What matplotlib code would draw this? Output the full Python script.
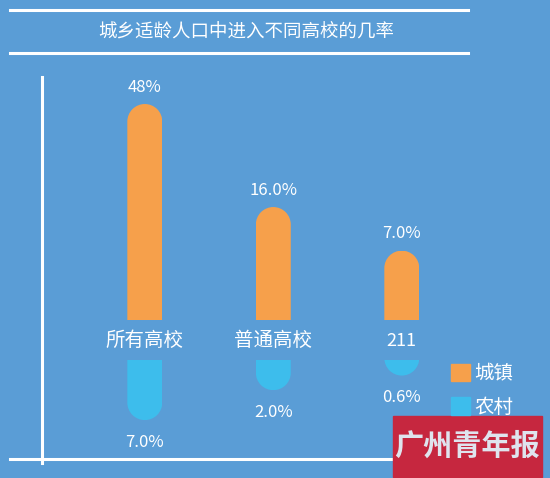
import numpy as np
import matplotlib
matplotlib.use('Agg')
import matplotlib.pyplot as plt
from matplotlib.patches import PathPatch, Rectangle, Patch
from matplotlib.path import Path
from matplotlib.lines import Line2D
from matplotlib.transforms import IdentityTransform

plt.rcParams['font.family'] = ['Noto Sans CJK SC', 'DejaVu Sans']

# ---- data ----
categories = ['所有高校', '普通高校', '211']
urban = [48.0, 16.0, 7.0]
rural = [7.0, 2.0, 0.6]
urban_labels = ['48%', '16.0%', '7.0%']
rural_labels = ['7.0%', '2.0%', '0.6%']
series_names = ['城镇', '农村']
title = '城乡适龄人口中进入不同高校的几率'
logo = '广州青年报'

# ---- style ----
BG = '#5a9dd6'
ORANGE = '#f6a04b'
CYAN = '#3dbdec'
LOGO_RED = '#c6273f'

W, H = 550, 478
fig = plt.figure(figsize=(W / 100, H / 100), dpi=100, facecolor=BG)


def fx(px):
    return px / W


def fy(py):
    return (H - py) / H


def power(p):
    return (lambda v: np.sign(v) * np.abs(v) ** p,
            lambda u: np.sign(u) * np.abs(u) ** (1.0 / p))


left_px, right_px = 44, 520
ax_top = fig.add_axes([fx(left_px), fy(320), fx(right_px) - fx(left_px), fy(70) - fy(320)])
ax_bot = fig.add_axes([fx(left_px), fy(470), fx(right_px) - fx(left_px), fy(360) - fy(470)])

x = np.arange(len(categories))
xlim = (-(144.8 - left_px) / 128.5, 2 + (right_px - 401.8) / 128.5)
bar_w = 0.272

ax_top.set_yscale('function', functions=power(0.59))
ax_top.set_ylim(0, 61.5)
ax_bot.set_yscale('function', functions=power(0.55))
ax_bot.set_ylim(21.0, 0)

for ax in (ax_top, ax_bot):
    ax.set_xlim(*xlim)
    ax.axis('off')
    ax.patch.set_alpha(0)

bars_top = ax_top.bar(x, urban, width=bar_w, color=ORANGE, linewidth=0)
bars_bot = ax_bot.bar(x, rural, width=bar_w, color=CYAN, linewidth=0)


def round_end(rect, up=True):
    """Clip a bar so its free end becomes a semicircle (display units)."""
    bb = rect.get_window_extent()
    w = bb.width
    r = w / 2
    cx = bb.x0 + r
    if up:
        cy = bb.y1 - r
        arc = Path.arc(0, 180)
        base = cy - 2 * w - bb.height
        start, end = bb.x1, bb.x0
    else:
        cy = bb.y0 + r
        arc = Path.arc(180, 360)
        base = cy + 2 * w + bb.height
        start, end = bb.x0, bb.x1
    av = arc.vertices * r + np.array([cx, cy])
    ac = list(arc.codes)
    ac[0] = Path.LINETO
    verts = [(start, base), (start, cy)] + [tuple(p) for p in av[1:]] + [(end, base), (start, base)]
    codes = [Path.MOVETO, Path.LINETO] + ac[1:] + [Path.LINETO, Path.CLOSEPOLY]
    clip = PathPatch(Path(verts, codes), transform=IdentityTransform())
    rect.set_clip_path(clip)


for r_ in bars_top:
    round_end(r_, up=True)
for r_ in bars_bot:
    round_end(r_, up=False)

for xi, v, lbl in zip(x, urban, urban_labels):
    ax_top.annotate(lbl, (xi, v), xytext=(0, 12), textcoords='offset points',
                    ha='center', va='center', color='white', fontsize=12)
for xi, v, lbl in zip(x, rural, rural_labels):
    ax_bot.annotate(lbl, (xi, v), xytext=(0, -16), textcoords='offset points',
                    ha='center', va='center', color='white', fontsize=12)
for xi, cat in zip(x, categories):
    ax_top.annotate(cat, (xi, 0), xytext=(0, -15), textcoords='offset points',
                    ha='center', va='center', color='white',
                    fontsize=14 if not cat.isdigit() else 13,
                    annotation_clip=False)

# ---- decorations ----
lw = 2.2
fig.add_artist(Line2D([fx(10), fx(468)], [fy(10), fy(10)], color='white', lw=lw))
fig.add_artist(Line2D([fx(10), fx(468)], [fy(53), fy(53)], color='white', lw=lw))
fig.text(fx(246), fy(32), title, ha='center', va='center', color='white', fontsize=13.3)
fig.add_artist(Line2D([fx(42), fx(42)], [fy(77), fy(463)], color='white', lw=lw))
fig.add_artist(Line2D([fx(10), fx(470)], [fy(459), fy(459)], color='white', lw=lw))

fig.legend(handles=[Patch(color=ORANGE), Patch(color=CYAN)], labels=series_names,
           loc='upper left', bbox_to_anchor=(fx(451), fy(363)), frameon=False,
           handlelength=1.0, handleheight=1.0, handletextpad=0.2, labelspacing=0.65,
           fontsize=14, labelcolor='white', borderpad=0, borderaxespad=0)

fig.add_artist(Rectangle((fx(393), fy(477)), fx(542) - fx(393), fy(416) - fy(477),
                         transform=fig.transFigure, color=LOGO_RED, zorder=5))
fig.text(fx(467), fy(446), logo, ha='center', va='center', color='#dfe4ee',
         fontsize=21, weight='bold', zorder=6)

fig.savefig('out.png', dpi=100, facecolor=BG)
